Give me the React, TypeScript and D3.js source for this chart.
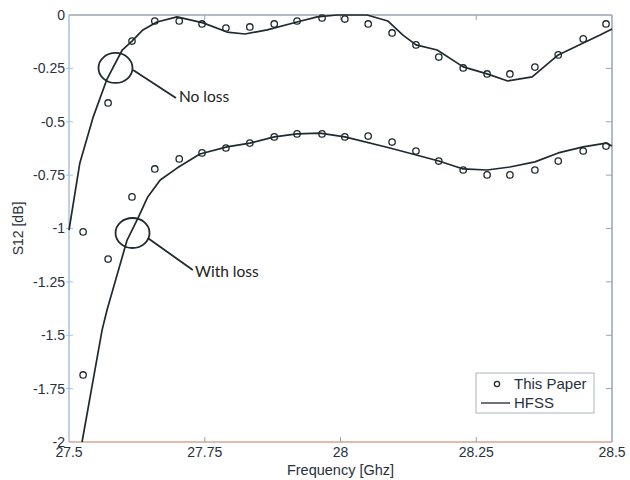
import { useRef, useEffect } from "react";
import * as d3 from "d3";

// "This Paper" sample frequencies (GHz)
const paperFreq = [
  27.526, 27.572, 27.616, 27.658, 27.703, 27.745, 27.789, 27.833, 27.878, 27.92, 27.966, 28.008,
  28.051, 28.095, 28.139, 28.181, 28.226, 28.27, 28.312, 28.358, 28.401, 28.447, 28.489,
];
const paperNoLoss = [
  -1.016, -0.412, -0.122, -0.028, -0.028, -0.042, -0.061, -0.056, -0.042, -0.028, -0.014, -0.019,
  -0.042, -0.084, -0.14, -0.197, -0.248, -0.276, -0.276, -0.244, -0.187, -0.112, -0.042,
];
const paperWithLoss = [
  -1.686, -1.143, -0.852, -0.721, -0.674, -0.646, -0.623, -0.6, -0.571, -0.557, -0.557, -0.571,
  -0.567, -0.595, -0.637, -0.684, -0.726, -0.749, -0.749, -0.726, -0.684, -0.637, -0.614,
];

// HFSS curves
const hfssNoLossFreq = [
  27.5, 27.52, 27.544, 27.57, 27.598, 27.616, 27.636, 27.662, 27.699, 27.747, 27.791, 27.824,
  27.865, 27.92, 27.957, 27.994, 28.049, 28.087, 28.115, 28.139, 28.178, 28.226, 28.27, 28.308,
  28.353, 28.401, 28.447, 28.478, 28.5,
];
const hfssNoLoss = [
  -1.007, -0.693, -0.482, -0.3, -0.164, -0.122, -0.07, -0.033, -0.009, -0.037, -0.08, -0.089,
  -0.07, -0.033, -0.009, 0, 0, -0.028, -0.094, -0.14, -0.164, -0.243, -0.276, -0.309,
  -0.29, -0.187, -0.131, -0.094, -0.066,
];
const hfssWithLossFreq = [
  27.524, 27.561, 27.57, 27.607, 27.627, 27.645, 27.668, 27.699, 27.741, 27.791, 27.833, 27.878,
  27.92, 27.962, 28.008, 28.091, 28.181, 28.226, 28.27, 28.312, 28.358, 28.401, 28.447, 28.489,
  28.5,
];
const hfssWithLoss = [
  -2.0, -1.475, -1.382, -1.054, -0.951, -0.852, -0.773, -0.717, -0.651, -0.618, -0.6, -0.571,
  -0.557, -0.553, -0.571, -0.623, -0.684, -0.721, -0.726, -0.712, -0.688, -0.646, -0.618, -0.6,
  -0.614,
];

const xTicks = [27.5, 27.75, 28, 28.25, 28.5];
const xTickLabels = ["27.5", "27.75", "28", "28.25", "28.5"];
const yTicks = [0, -0.25, -0.5, -0.75, -1, -1.25, -1.5, -1.75, -2];
const yTickLabels = ["0", "-0.25", "-0.5", "-0.75", "-1", "-1.25", "-1.5", "-1.75", "-2"];

// annotation callouts, in data units
const notes = [
  { cx: 27.5856, cy: -0.248, x1: 27.618, y1: -0.258, x2: 27.697, y2: -0.389, tx: 27.7026, ty: -0.4075, label: "No loss" },
  { cx: 27.617, cy: -1.021, x1: 27.645, y1: -1.045, x2: 27.728, y2: -1.194, tx: 27.732, ty: -1.227, label: "With loss" },
];

const FONT = "'Liberation Sans', Arial, sans-serif";
const TEXT = "#27313c";
const INK = "#1f2a2e";

const App = () => {
  const svgRef = useRef<SVGSVGElement>(null);
  const width = 630;
  const height = 480;

  useEffect(() => {
    const svg = d3.select(svgRef.current);
    svg.selectAll("*").remove();

    const left = 69, right = 612, top = 15, bottom = 442;
    const x = d3.scaleLinear().domain([27.5, 28.5]).range([left, right]);
    const y = d3.scaleLinear().domain([-2, 0]).range([bottom, top]);

    svg.append("rect").attr("width", width).attr("height", height).attr("fill", "#fff");

    // frame
    svg.append("line").attr("x1", left).attr("x2", right).attr("y1", top).attr("y2", top)
      .attr("stroke", "#9aa5b2").attr("stroke-width", 1.5);
    svg.append("line").attr("x1", right).attr("x2", right).attr("y1", top).attr("y2", bottom)
      .attr("stroke", "#8fa5c0").attr("stroke-width", 1.5);
    svg.append("line").attr("x1", left).attr("x2", left).attr("y1", top).attr("y2", bottom)
      .attr("stroke", "#a9c1dc").attr("stroke-width", 1.5);
    svg.append("line").attr("x1", left).attr("x2", right).attr("y1", bottom).attr("y2", bottom)
      .attr("stroke", "#d9a591").attr("stroke-width", 1.5);

    // ticks
    const tg = svg.append("g").attr("stroke-width", 1);
    yTicks.forEach((t, i) => {
      if (i > 0 && i < yTicks.length - 1) {
        tg.append("line").attr("x1", left - 3).attr("x2", left + 4).attr("y1", y(t)).attr("y2", y(t))
          .attr("stroke", "#a9c1dc");
        tg.append("line").attr("x1", right - 6).attr("x2", right).attr("y1", y(t)).attr("y2", y(t))
          .attr("stroke", "#8fa5c0");
      }
    });
    xTicks.forEach((t, i) => {
      if (i > 0 && i < xTicks.length - 1) {
        tg.append("line").attr("x1", x(t)).attr("x2", x(t)).attr("y1", bottom).attr("y2", bottom - 5)
          .attr("stroke", "#8fa5c0");
        tg.append("line").attr("x1", x(t)).attr("x2", x(t)).attr("y1", top).attr("y2", top + 5)
          .attr("stroke", "#8fa5c0");
      }
    });

    // tick labels
    svg.append("g").selectAll("text").data(yTicks).enter().append("text")
      .attr("x", left - 4).attr("y", (d) => y(d)).attr("dy", "0.35em")
      .attr("text-anchor", "end").attr("font-family", FONT).attr("font-size", 14).attr("fill", TEXT)
      .text((d, i) => yTickLabels[i]);
    svg.append("g").selectAll("text").data(xTicks).enter().append("text")
      .attr("x", (d) => x(d)).attr("y", bottom + 15)
      .attr("text-anchor", "middle").attr("font-family", FONT).attr("font-size", 14).attr("fill", TEXT)
      .text((d, i) => xTickLabels[i]);

    // axis titles
    svg.append("text").attr("x", (left + right) / 2).attr("y", 475).attr("text-anchor", "middle")
      .attr("font-family", FONT).attr("font-size", 14.5).attr("fill", TEXT).text("Frequency [Ghz]");
    svg.append("text").attr("transform", `translate(23,${(top + bottom) / 2}) rotate(-90)`)
      .attr("text-anchor", "middle").attr("font-family", FONT).attr("font-size", 14).attr("fill", TEXT)
      .text("S12 [dB]");

    // HFSS lines
    const line = d3.line<[number, number]>().x((d) => x(d[0])).y((d) => y(d[1])).curve(d3.curveLinear);
    const plot = svg.append("g");
    [
      hfssNoLossFreq.map((f, i) => [f, hfssNoLoss[i]] as [number, number]),
      hfssWithLossFreq.map((f, i) => [f, hfssWithLoss[i]] as [number, number]),
    ].forEach((pts) => {
      plot.append("path").datum(pts).attr("fill", "none").attr("stroke", INK)
        .attr("stroke-width", 1.7).attr("stroke-linejoin", "round").attr("d", line);
    });

    // This Paper markers
    [paperNoLoss, paperWithLoss].forEach((vals) => {
      plot.append("g").selectAll("circle").data(vals).enter().append("circle")
        .attr("cx", (d, i) => x(paperFreq[i])).attr("cy", (d) => y(d)).attr("r", 3.2)
        .attr("fill", "none").attr("stroke", INK).attr("stroke-width", 1.3);
    });

    // annotations
    notes.forEach((n) => {
      svg.append("ellipse").attr("cx", x(n.cx)).attr("cy", y(n.cy)).attr("rx", 17).attr("ry", 15)
        .attr("fill", "none").attr("stroke", INK).attr("stroke-width", 1.8);
      svg.append("line").attr("x1", x(n.x1)).attr("y1", y(n.y1)).attr("x2", x(n.x2)).attr("y2", y(n.y2))
        .attr("stroke", INK).attr("stroke-width", 1.8);
      svg.append("text").attr("x", x(n.tx)).attr("y", y(n.ty))
        .attr("font-family", "Lato, 'Open Sans', sans-serif").attr("font-size", 15.5).attr("fill", "#222")
        .text(n.label);
    });

    // legend
    const lg = svg.append("g").attr("transform", "translate(476,373)");
    lg.append("rect").attr("width", 118).attr("height", 40).attr("fill", "#fff")
      .attr("stroke", "#aab4bf").attr("stroke-width", 1);
    lg.append("circle").attr("cx", 21).attr("cy", 11).attr("r", 2.6).attr("fill", "none")
      .attr("stroke", INK).attr("stroke-width", 1.3);
    lg.append("line").attr("x1", 5).attr("x2", 34).attr("y1", 30).attr("y2", 30)
      .attr("stroke", INK).attr("stroke-width", 1.3);
    lg.append("text").attr("x", 38).attr("y", 11).attr("dy", "0.35em").attr("font-family", FONT)
      .attr("font-size", 15).attr("fill", TEXT).text("This Paper");
    lg.append("text").attr("x", 38).attr("y", 30).attr("dy", "0.35em").attr("font-family", FONT)
      .attr("font-size", 15).attr("fill", TEXT).text("HFSS");
  }, []);

  return (
    <div style={{ position: "absolute", left: 0, top: 0 }}>
      <svg ref={svgRef} width={width} height={height} style={{ display: "block" }}></svg>
    </div>
  );
};

export default App;
